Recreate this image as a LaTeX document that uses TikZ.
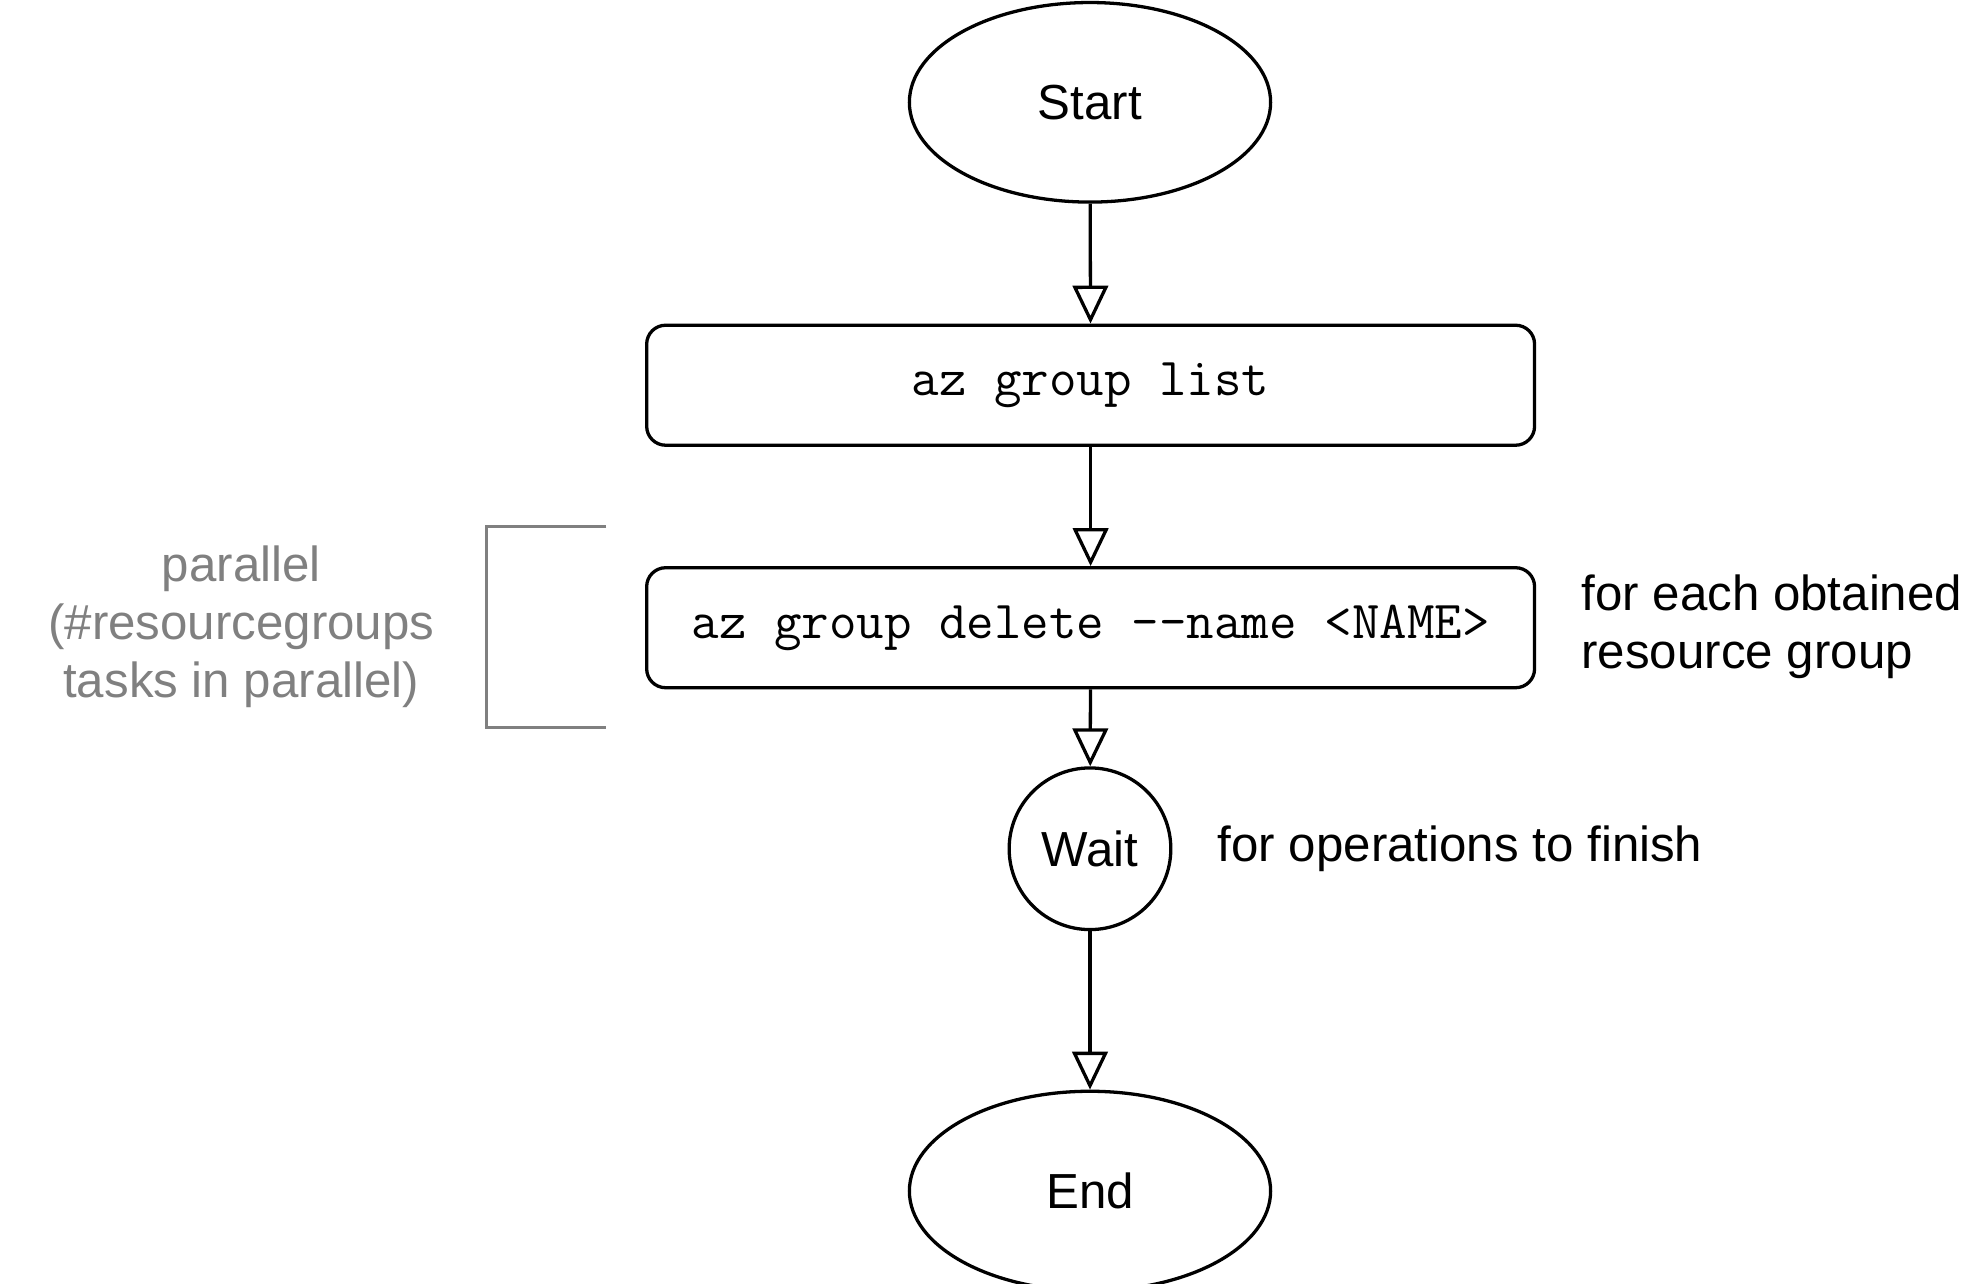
\documentclass[tikz,border=0pt]{standalone}
\usepackage{fontspec}
\setmainfont{Liberation Sans}
\usetikzlibrary{shapes.geometric,arrows.meta}
\definecolor{brgray}{RGB}{128,128,128}
\begin{document}
\begin{tikzpicture}[x=1pt,y=-1pt,
  every node/.style={font=\fontsize{39}{46}\selectfont},
  outline/.style={draw=black,line width=2.6pt,fill=white},
  term/.style={outline,ellipse,minimum width=286pt,minimum height=158pt,inner sep=0pt},
  cmdbox/.style={outline,rectangle,rounded corners=15pt,minimum width=703pt,minimum height=95pt,inner sep=0pt,font=\ttfamily\fontsize{42.3}{48}\selectfont},
  waitnode/.style={outline,circle,minimum size=128pt,inner sep=0pt},
  arr/.style={draw=black,line width=2.6pt,-{Triangle[open,length=30pt,width=28pt,fill=white]}},
  note/.style={text=black,inner sep=0pt},
  graynote/.style={text=brgray,inner sep=0pt,align=center},
  bracket/.style={draw=brgray,line width=2.8pt}
]
\useasboundingbox (0,0) rectangle (1555,1016.6);
\node[term] (start) at (863,81) {Start};
\node[cmdbox] (list) at (863.5,305) {az group list};
\node[cmdbox] (delete) at (863.5,497) {az group delete -{}-name <NAME>};
\node[waitnode] (wait) at (863,672) {Wait};
\node[term] (end) at (863,943) {End};

\draw[arr] (start) -- (list);
\draw[arr] (list) -- (delete);
\draw[arr] (delete) -- (wait);
\draw[arr] (wait) -- (end);

\coordinate (bt) at (480,417);
\coordinate (btl) at (385,417);
\coordinate (bbl) at (385,576);
\coordinate (bb) at (480,576);
\draw[bracket] (bt) -- (btl) -- (bbl) -- (bb);

\node[graynote] (par) at (191,496) {parallel\\(\#resourcegroups\\tasks in parallel)};
\node[note,anchor=west,align=left] (each) at (1252,496) {for each obtained\\resource group};
\node[note,anchor=west] (fin) at (964,672) {for operations to finish};
\end{tikzpicture}
\end{document}
